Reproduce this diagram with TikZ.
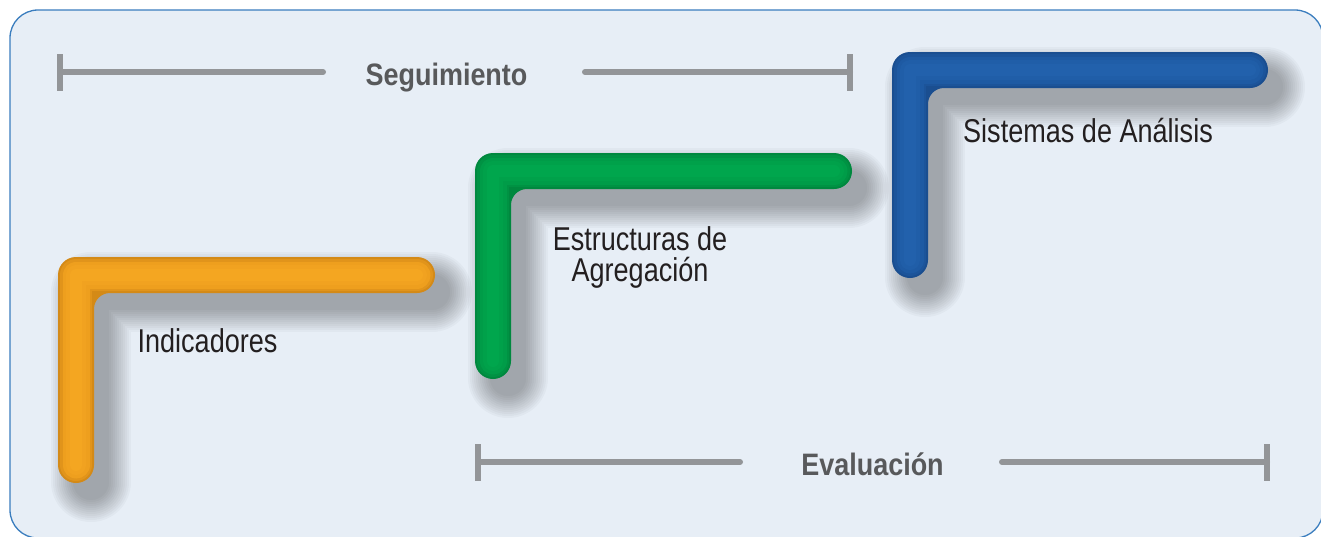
\documentclass[tikz,border=0pt]{standalone}
\usepackage{fontspec}
\newfontfamily\labfont[FakeStretch=0.82]{Liberation Sans}
\newfontfamily\headfont[FakeStretch=0.87]{Liberation Sans}
\definecolor{bgcol}{HTML}{E7EEF6}
\definecolor{framecol}{HTML}{3A7DBE}
\definecolor{barcol}{HTML}{939598}
\definecolor{headcol}{HTML}{58595B}
\definecolor{txtcol}{HTML}{231F20}
\definecolor{oraEdge}{HTML}{D48A17}
\definecolor{oraMain}{HTML}{EE9F1E}
\definecolor{oraHi}{HTML}{F4A621}
\definecolor{grnEdge}{HTML}{00883E}
\definecolor{grnMain}{HTML}{009C48}
\definecolor{grnHi}{HTML}{00A64D}
\definecolor{bluEdge}{HTML}{1A4E90}
\definecolor{bluMain}{HTML}{1E5AA3}
\definecolor{bluHi}{HTML}{2261AC}
\tikzset{
  bar/.style={draw=barcol, line width=6pt, line cap=round},
  tick/.style={draw=barcol, line width=6pt, line cap=butt},
  head/.style={font=\headfont\bfseries\fontsize{31}{31}\selectfont, text=headcol, inner sep=0pt},
  lab/.style={font=\labfont\fontsize{33}{31}\selectfont, text=txtcol, inner sep=0pt, align=center},
  shadowlayer/.style={draw=black, draw opacity=0.026, line cap=round, line join=round},
  tube/.style={line cap=round, line join=round},
}
\newcommand\ellshadow[1]{%
  \foreach \w in {36,40,...,80}{\draw[shadowlayer, line width=\w pt, shift={(15,-17)}] #1;}}
\begin{document}
\begin{tikzpicture}[x=1pt,y=1pt]
\useasboundingbox (0,0) rectangle (1321,-536);
% frame
\draw[draw=framecol, line width=1.3pt, fill=bgcol, rounded corners=28pt] (10,-10) rectangle (1323,-538);

% bars: Seguimiento
\node[head, anchor=base] (seg) at (446.5,-85) {Seguimiento};
\coordinate (sL) at (60,-72);
\coordinate (sLe) at (323,-72);
\coordinate (sR) at (850,-72);
\coordinate (sRe) at (585,-72);
\draw[bar] (sL) -- (sLe);
\draw[bar] (sRe) -- (sR);
\draw[tick] ([yshift=18pt]sL) -- ([yshift=-19pt]sL);
\draw[tick] ([yshift=18pt]sR) -- ([yshift=-19pt]sR);

% bars: Evaluacion
\node[head, anchor=base] (eva) at (872.5,-475) {Evaluación};
\coordinate (eL) at (478,-462);
\coordinate (eLe) at (740,-462);
\coordinate (eR) at (1267,-462);
\coordinate (eRe) at (1002,-462);
\draw[bar] (eL) -- (eLe);
\draw[bar] (eRe) -- (eR);
\draw[tick] ([yshift=18pt]eL) -- ([yshift=-19pt]eL);
\draw[tick] ([yshift=18pt]eR) -- ([yshift=-19pt]eR);

% shadows
\ellshadow{(76,-465) -- (76,-275) -- (417,-275)}
\ellshadow{(493,-361) -- (493,-171) -- (834,-171)}
\ellshadow{(910,-260) -- (910,-70) -- (1250,-70)}

% orange L
\fill[oraEdge] (58,-465) -- (58,-275) arc[start angle=180, end angle=90, radius=18]
  -- (417,-257) arc[start angle=90, end angle=-90, radius=18]
  -- (110,-293) arc[start angle=90, end angle=180, radius=16]
  -- (94,-465) arc[start angle=0, end angle=-180, radius=18] -- cycle;
\draw[tube, oraEdge!50!oraMain, line width=32pt] (76,-465) -- (76,-275) -- (417,-275);
\draw[tube, oraMain, line width=27pt] (76,-465) -- (76,-275) -- (417,-275);
\draw[tube, oraMain!50!oraHi, line width=20pt] (76,-465) -- (76,-275) -- (417,-275);
\draw[tube, oraHi, line width=12pt] (76,-465) -- (76,-275) -- (417,-275);

% green L
\fill[grnEdge] (475,-361) -- (475,-171) arc[start angle=180, end angle=90, radius=18]
  -- (834,-153) arc[start angle=90, end angle=-90, radius=18]
  -- (527,-189) arc[start angle=90, end angle=180, radius=16]
  -- (511,-361) arc[start angle=0, end angle=-180, radius=18] -- cycle;
\draw[tube, grnEdge!50!grnMain, line width=32pt] (493,-361) -- (493,-171) -- (834,-171);
\draw[tube, grnMain, line width=27pt] (493,-361) -- (493,-171) -- (834,-171);
\draw[tube, grnMain!50!grnHi, line width=20pt] (493,-361) -- (493,-171) -- (834,-171);
\draw[tube, grnHi, line width=12pt] (493,-361) -- (493,-171) -- (834,-171);

% blue L
\fill[bluEdge] (892,-260) -- (892,-70) arc[start angle=180, end angle=90, radius=18]
  -- (1250,-52) arc[start angle=90, end angle=-90, radius=18]
  -- (944,-88) arc[start angle=90, end angle=180, radius=16]
  -- (928,-260) arc[start angle=0, end angle=-180, radius=18] -- cycle;
\draw[tube, bluEdge!50!bluMain, line width=32pt] (910,-260) -- (910,-70) -- (1250,-70);
\draw[tube, bluMain, line width=27pt] (910,-260) -- (910,-70) -- (1250,-70);
\draw[tube, bluMain!50!bluHi, line width=20pt] (910,-260) -- (910,-70) -- (1250,-70);
\draw[tube, bluHi, line width=12pt] (910,-260) -- (910,-70) -- (1250,-70);

% labels
\node[lab, anchor=base] (ind) at (207.5,-352) {Indicadores};
\node[lab, anchor=base] (est) at (640,-281) {Estructuras de\\Agregación};
\node[lab, anchor=base] (sis) at (1088,-142) {Sistemas de Análisis};
\end{tikzpicture}
\end{document}
